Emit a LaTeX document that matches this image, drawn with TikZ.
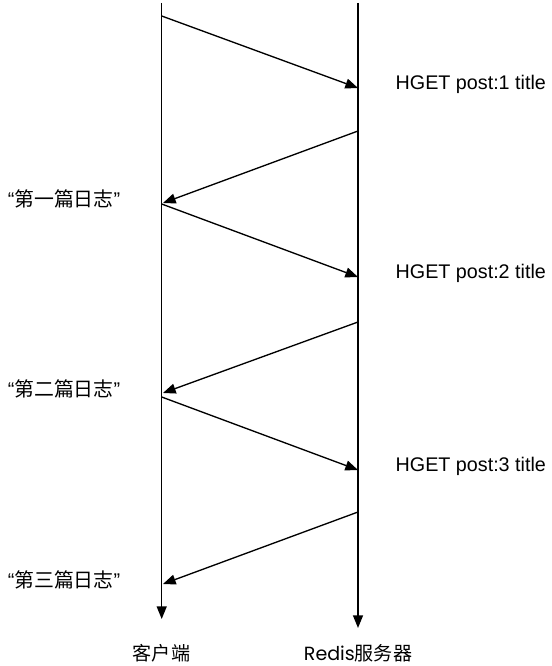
\documentclass[tikz,border=0pt]{standalone}
\usepackage{fontspec}
\setmainfont{Liberation Sans}
\newfontfamily\cjkfont{Noto Sans CJK SC}
\newfontfamily\gothicfont{Poppins}
\usetikzlibrary{arrows.meta,positioning}

\begin{document}
\begin{tikzpicture}[
    x=0.75pt, y=-0.75pt,
    >={Triangle[length=9.5pt,width=7.5pt]},
    line width=1pt,
    every node/.style={inner sep=0pt},
    cmdlabel/.style={anchor=west, font=\fontsize{14.8pt}{17pt}\selectfont},
    replylabel/.style={anchor=east, font=\fontsize{14.9pt}{17pt}\selectfont},
    sidename/.style={font=\fontsize{14.3pt}{17pt}\selectfont},
    msg/.style={->, line width=1pt}
]
    \useasboundingbox (0,0) rectangle (551,666);

    % Lifelines
    \coordinate (clienttop) at (161.7,3);
    \coordinate (clientbot) at (161.7,619);
    \coordinate (servertop) at (358,3);
    \coordinate (serverbot) at (358,628);
    \draw[->] (clienttop) -- (clientbot);
    \draw[->] (servertop) -- (serverbot);

    % Request / reply rounds
    \foreach \i/\ys/\ye/\yr/\yc/\txt in {1/16/88/131/203/第一篇日志,
                                       2/204/277/322/393/第二篇日志,
                                       3/397/470/512/584/第三篇日志} {
        \coordinate (c\i) at (161.7,\ys);
        \coordinate (s\i) at (358,\ye);
        \coordinate (r\i) at (358,\yr);
        \coordinate (a\i) at (163,\yc);
        \draw[msg] (c\i) -- (s\i);
        \draw[msg] (r\i) -- (a\i);
        \node[cmdlabel] (cmd\i) at ([xshift=27.75pt, yshift=3pt]s\i) {HGET post:\i\ title};
        \node[replylabel] (ans\i) at ([xshift=-31.5pt, yshift=3pt]a\i) {“{\cjkfont\txt}”};
    }

    % Names
    \node[sidename] (clientname) at (161.5,653) {\cjkfont 客户端};
    \node[sidename] (servername) at (358,653) {{\gothicfont Redis}\cjkfont 服务器};
\end{tikzpicture}
\end{document}
